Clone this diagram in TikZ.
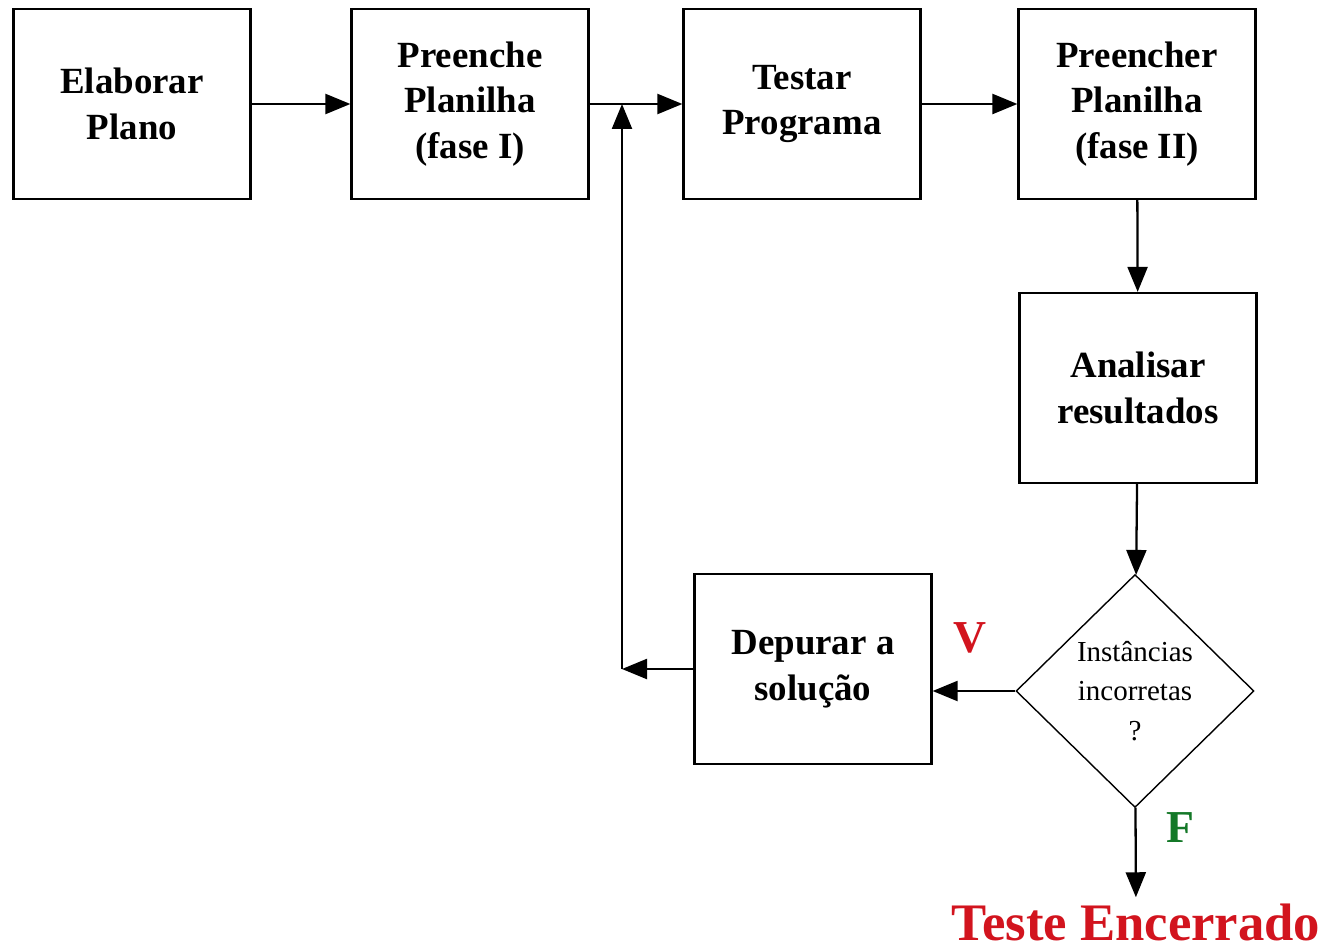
\documentclass[tikz,border=0pt]{standalone}
\usepackage{fontspec}
\setmainfont{Liberation Serif}
\usepackage{tikz}
\usetikzlibrary{shapes.geometric,arrows.meta}
\definecolor{fimred}{RGB}{210,20,30}
\definecolor{fimgreen}{RGB}{20,120,40}

\begin{document}
\begin{tikzpicture}[x=0.02cm, y=-0.02cm,
        caixa/.style={draw, line width=1.3pt, minimum width=4.74cm, minimum height=3.8cm,
                      inner sep=0pt, align=center, font=\fontsize{21}{26}\selectfont\bfseries},
        losango/.style={draw, diamond, line width=0.8pt, minimum width=4.76cm, minimum height=4.66cm,
                        inner sep=0pt, align=center, font=\fontsize{16.5}{22.5}\selectfont},
        seta/.style={line width=1.3pt, -{Triangle[length=0.5cm, width=0.4cm]}},
        rotulo/.style={font=\fontsize{26}{30}\selectfont\bfseries}]
        \useasboundingbox (0,0) rectangle (1332,950);               %
        \node [caixa]  (elab)   at (132,104)  {Elaborar\\Plano};       %
        \node [caixa]  (plan1)  at (470,104)  {Preenche\\Planilha\\(fase I)};
        \node [caixa]  (testar) at (802,104)  {Testar\\Programa};      %
        \node [caixa]  (plan2)  at (1137,104) {Preencher\\Planilha\\(fase II)};
        \node [caixa]  (anal)   at (1138,388) {Analisar\\resultados};  %
        \node [losango] (inst)  at (1135,691) {Instâncias\\incorretas\\?};
        \node [caixa]  (depur)  at (813,669)  {Depurar a\\solução};    %
        \node [font=\fontsize{30}{32}\selectfont\bfseries, text=fimred] (fim) at (1136,922) {Teste Encerrado};
        \node [rotulo, text=fimred]   (v) at (970,638)  {V};          %V
        \node [rotulo, text=fimgreen] (f) at (1180,828) {F};          %F

        \draw [seta] (elab)   -- (plan1);                             %
        \draw [seta] (plan1)  -- (testar);                            %
        \draw [seta] (testar) -- (plan2);                             %
        \draw [seta] (plan2)  -- (anal);                              %
        \draw [seta] (anal)   -- (inst);                              %
        \draw [seta] (inst.west) -- (inst.west -| depur.east);        %V
        \coordinate (volta) at (622,669);                             %
        \coordinate (topo)  at (volta |- testar.west);                %
        \draw [seta] (depur.west) -- (volta);                         %
        \draw [seta] (volta) -- (topo);                               %
        \draw [seta] (inst)   -- (fim);                               %F
\end{tikzpicture}
\end{document}
